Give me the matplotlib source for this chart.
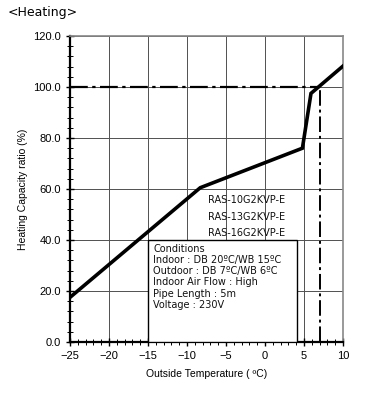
import matplotlib

matplotlib.use("Agg")
import matplotlib.pyplot as plt
from matplotlib.ticker import MultipleLocator

# curve points
temp = [-25, -8.3, 4.8, 5.9, 10]
capacity = [17.5, 60.5, 76.0, 97.5, 108.2]

# rated point guide lines
rated_temp = 7
rated_cap = 100.0

models = ["RAS-10G2KVP-E", "RAS-13G2KVP-E", "RAS-16G2KVP-E"]
conditions = [
    "Conditions",
    "Indoor : DB 20\u00baC/WB 15\u00baC",
    "Outdoor : DB 7\u00baC/WB 6\u00baC",
    "Indoor Air Flow : High",
    "Pipe Length : 5m",
    "Voltage : 230V",
]

fig = plt.figure(figsize=(3.77, 3.94), dpi=100)
ax = fig.add_axes([0.1857, 0.132, 0.724, 0.7766])

ax.set_xlim(-25, 10)
ax.set_ylim(0, 120)
ax.xaxis.set_major_locator(MultipleLocator(5))
ax.xaxis.set_minor_locator(MultipleLocator(1))
ax.yaxis.set_major_locator(MultipleLocator(20))
ax.yaxis.set_minor_locator(MultipleLocator(4))
ax.yaxis.set_major_formatter(lambda v, p: f"{v:.1f}")
ax.grid(which="major", color="#505050", lw=0.7, zorder=1)

for side in ("top", "right"):
    ax.spines[side].set_color("#888888")
    ax.spines[side].set_linewidth(1.2)
for side in ("left", "bottom"):
    ax.spines[side].set_color("black")
    ax.spines[side].set_linewidth(1.6)

ax.tick_params(which="both", direction="inout", colors="black", labelsize=8)
ax.tick_params(which="major", length=6, width=1.0)
ax.tick_params(which="minor", length=4, width=0.7)
for lbl in ax.get_xticklabels() + ax.get_yticklabels():
    lbl.set_family("Liberation Sans")

ax.plot([-25, rated_temp], [rated_cap, rated_cap], color="black", lw=1.6,
        ls=(0, (8, 2, 1.5, 2)), zorder=3)
ax.plot([rated_temp, rated_temp], [0, rated_cap], color="black", lw=1.4,
        ls=(0, (8, 2, 1.5, 2)), zorder=3)

ax.plot(temp, capacity, color="black", lw=2.6, solid_joinstyle="miter", zorder=4)

for i, m in enumerate(models):
    ax.text(-7.3, 55.5 - i * 6.4, m, fontsize=7, family="DejaVu Sans",
            color="#111111", va="center", zorder=5)

ax.add_patch(plt.Rectangle((-15, 0), 19.1, 40, facecolor="white",
                           edgecolor="black", lw=1.0, zorder=5))
ax.text(-14.3, 38.5, "\n".join(conditions), fontsize=7, family="DejaVu Sans",
        color="#111111", va="top", ha="left", linespacing=1.15, zorder=6)

ax.set_xlabel("Outside Temperature ( \u00baC)", fontsize=7.5, family="Liberation Sans", labelpad=6)
ax.set_ylabel("Heating Capacity ratio (%)", fontsize=7.5, family="Liberation Sans", labelpad=4)

fig.text(0.021, 0.968, "<Heating>", fontsize=9, family="DejaVu Sans", va="center", ha="left")

fig.savefig("out.png", dpi=100)
